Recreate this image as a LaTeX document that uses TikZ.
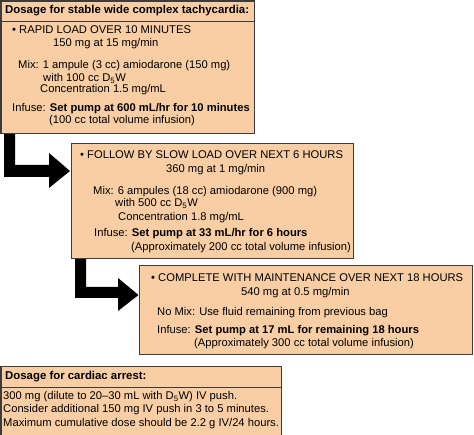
\documentclass[tikz,border=0pt]{standalone}
\usepackage{fontspec}
\setmainfont{Liberation Sans}
\definecolor{peach}{RGB}{249,206,165}
\definecolor{edge}{RGB}{60,60,60}
\tikzset{
  box/.style={draw=edge, fill=peach, line width=1.1pt, inner sep=0pt, anchor=north west},
  txt/.style={inner sep=0pt, anchor=base west, font=\fontsize{11.2}{13}\selectfont, text=black},
  hdr/.style={txt, font=\fontsize{11.4}{13}\selectfont\bfseries},
  fatarrow/.style={fill=black, draw=none}
}
\begin{document}
\begin{tikzpicture}[x=1pt,y=-1pt]
\clip (0,0) rectangle (474,435);
\fill[white] (0,0) rectangle (474,435);
% boxes
\node[box, minimum width=253pt, minimum height=21pt] (h1) at (0.5,0.5) {};
\node[box, minimum width=253pt, minimum height=112pt] (b1) at (0.5,21) {};
\node[box, minimum width=282pt, minimum height=115pt] (b2) at (71,143) {};
\node[box, minimum width=333pt, minimum height=89pt] (b3) at (139,265) {};
\node[box, minimum width=280pt, minimum height=21pt] (h4) at (0.5,366) {};
\node[box, minimum width=280pt, minimum height=52pt] (b4) at (0.5,387) {};
% arrows (thick L-shaped block arrows)
\coordinate (a1s) at (b1.south west);
\coordinate (a2s) at (b2.south west);
\fill[fatarrow] ([xshift=3.5pt]a1s) -- ([xshift=14.5pt]a1s) -- (15,165) -- (49,165) -- (49,153)
   -- (70,171) -- (49,188) -- (49,177) -- (4,177) -- cycle;
\fill[fatarrow] ([xshift=4pt]a2s) -- ([xshift=15pt]a2s) -- (86,287) -- (118,287) -- (118,278)
   -- (138.5,295) -- (118,311) -- (118,298) -- (75,298) -- cycle;
% box 1 text
\node[hdr] (t10) at (5,14) {Dosage for stable wide complex tachycardia:};
\node[txt] (t11) at (12,34) {• RAPID LOAD OVER 10 MINUTES};
\node[txt] (t12) at (53,47) {150 mg at 15 mg/min};
\node[txt] (t13) at (18,69) {Mix: 1 ampule (3 cc) amiodarone (150 mg)};
\node[txt] (t14) at (43,82) {with 100 cc D\textsubscript{5}W};
\node[txt] (t15) at (40,93) {Concentration 1.5 mg/mL};
\node[txt] (t16) at (12,112) {Infuse: \textbf{Set pump at 600 mL/hr for 10 minutes}};
\node[txt] (t17) at (49,124) {(100 cc total volume infusion)};
% box 2 text
\node[txt] (t21) at (80,159) {• FOLLOW BY SLOW LOAD OVER NEXT 6 HOURS};
\node[txt] (t22) at (166,173) {360 mg at 1 mg/min};
\node[txt] (t23) at (93,195) {Mix: 6 ampules (18 cc) amiodarone (900 mg)};
\node[txt] (t24) at (115,207) {with 500 cc D\textsubscript{5}W};
\node[txt] (t25) at (118,221) {Concentration 1.8 mg/mL};
\node[txt] (t26) at (94,237) {Infuse: \textbf{Set pump at 33 mL/hr for 6 hours}};
\node[txt] (t27) at (131,251) {(Approximately 200 cc total volume infusion)};
% box 3 text
\node[txt] (t31) at (151,282) {• COMPLETE WITH MAINTENANCE OVER NEXT 18 HOURS};
\node[txt] (t32) at (241,296) {540 mg at 0.5 mg/min};
\node[txt] (t33) at (157,316) {No Mix: Use fluid remaining from previous bag};
\node[txt] (t34) at (157,334) {Infuse: \textbf{Set pump at 17 mL for remaining 18 hours}};
\node[txt] (t35) at (194,347) {(Approximately 300 cc total volume infusion)};
% cardiac arrest
\node[hdr] (t40) at (5,380) {Dosage for cardiac arrest:};
\node[txt] (t41) at (3,400) {300 mg (dilute to 20–30 mL with D\textsubscript{5}W) IV push.};
\node[txt] (t42) at (3,413) {Consider additional 150 mg IV push in 3 to 5 minutes.};
\node[txt] (t43) at (3,427) {Maximum cumulative dose should be 2.2 g IV/24 hours.};
\end{tikzpicture}
\end{document}
